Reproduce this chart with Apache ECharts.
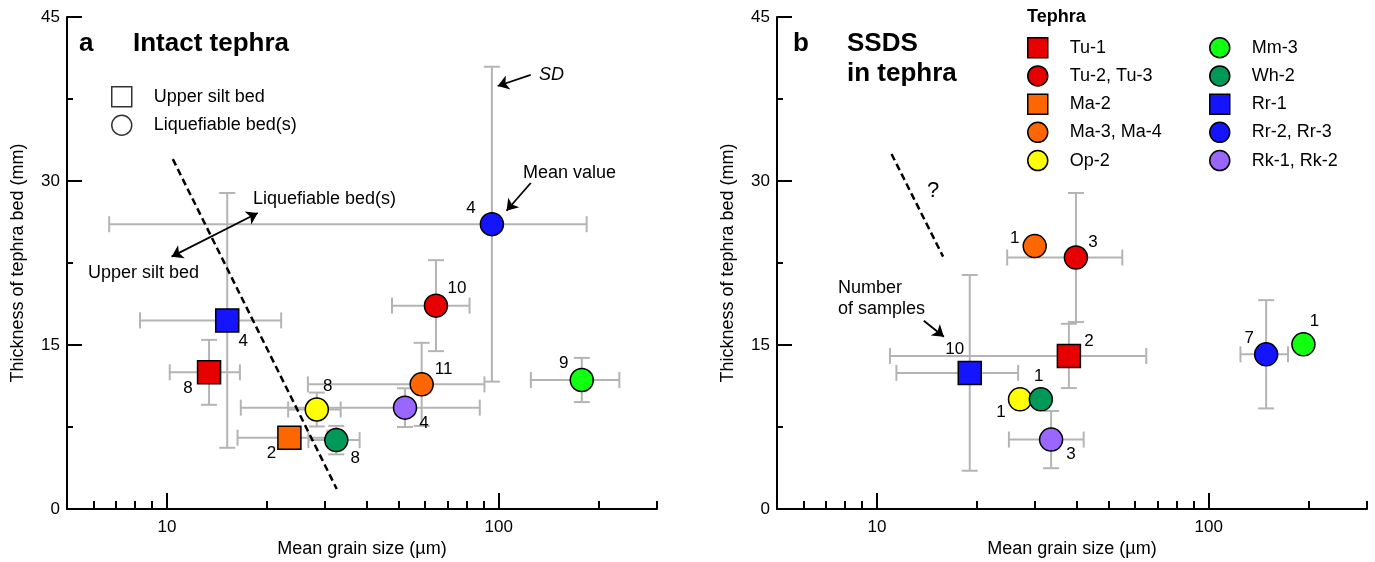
<!DOCTYPE html>
<html><head><meta charset="utf-8">
<script src="https://cdn.jsdelivr.net/npm/echarts@6/dist/echarts.min.js"></script>
<style>html,body{margin:0;padding:0;background:#fff}#c{width:1375px;height:562px}</style>
</head><body><div id="c"></div>
<script>
const FONT = "'Liberation Sans', Arial, Helvetica, sans-serif";

// ---------- data ----------
const tephraNames = ['Tu-1', 'Tu-2, Tu-3', 'Ma-2', 'Ma-3, Ma-4', 'Op-2', 'Mm-3', 'Wh-2', 'Rr-1', 'Rr-2, Rr-3', 'Rk-1, Rk-2'];
const bedType = ['silt', 'liq', 'silt', 'liq', 'liq', 'liq', 'liq', 'silt', 'liq', 'liq'];
const tephraColors = ['#e60000', '#e60000', '#ff6600', '#ff6600', '#ffff00', '#11ff11', '#009958', '#1414ff', '#1414ff', '#9966ff'];

// panel a: intact tephra (mean grain size µm, thickness mm, SDs, number of samples)
const aGrain   = [13.4, 64.7, 23.4, 58.6, 28.3, 178, 32.4, 15.2, 95.4, 52.2];
const aGrainSD = [3.2, 17, 7.07, 32, 5.1, 53, 5.7, 6.9, 88.7, 35.5];
const aThick   = [12.5, 18.6, 6.52, 11.4, 9.1, 11.8, 6.3, 17.25, 26.05, 9.27];
const aThickSD = [2.97, 4.16, 0, 3.8, 1.55, 2.02, 1.3, 11.65, 14.4, 1.77];
const aCount   = [8, 10, 2, 11, 8, 9, 8, 4, 4, 4];

// panel b: SSDS in tephra
const bGrain   = [37.9, 39.8, null, 29.9, 27.0, 193, 31.2, 19.05, 149, 33.5];
const bGrainSD = [26.95, 15.1, null, 0, 0, 0, 0, 7.6, 24.35, 8.5];
const bThick   = [14.0, 23.0, null, 24.05, 10.03, 15.06, 10.03, 12.45, 14.15, 6.35];
const bThickSD = [2.94, 5.9, null, 0, 0, 0, 0, 8.95, 4.95, 2.62];
const bCount   = [2, 3, null, 1, 1, 1, 1, 10, 7, 3];

// boundary (dashed) lines
const aBoundaryGrain = [10.42, 32.5];
const aBoundaryThick = [32.0, 1.83];
const bBoundaryGrain = [11.07, 15.83];
const bBoundaryThick = [32.47, 23.08];

// annotation arrows [from, to] in data units
const aArrowBoth = [[10.33, 23.08], [18.79, 27.07]];
const aArrowSD   = [[124.9, 39.7], [99.3, 38.69]];
const aArrowMean = [[124.9, 29.82], [105.6, 27.28]];
const bArrowN    = [[13.85, 17.22], [15.92, 15.76]];

// axes
const xMin = 5, xMax = 300;
const xMinorTicks = [6, 7, 8, 9, 20, 30, 40, 50, 60, 70, 80, 90, 200, 300];
const xMajorTicks = [10, 100];
const xTickLabels = ['10', '100'];
const yMin = 0, yMax = 45, yStep = 15;

// ---------- styles ----------
const aLabelOffset = [[-21,16],[21,-17],[-18,16],[22,-15],[11,-23],[-18,-17],[19,18],[16,21],[-21,-16],[19,16]];
const bLabelOffset = [[20,-15],[17,-15],null,[-20,-8],[-19,13],[11,-23],[-2,-23],[-15,-24],[-17,-16],[20,15]];

const LOG = v => Math.log10(v);
const grids = [
  {left: 67, top: 17, width: 590, height: 492},
  {left: 777, top: 17, width: 590, height: 492}
];

function xAxesFor(g) {
  const common = {gridIndex: g, position: 'bottom', splitLine: {show: false}};
  return [
    Object.assign({}, common, {
      type: 'log', logBase: 10, min: xMin, max: xMax,
      axisLine: {show: true, onZero: false, lineStyle: {color: '#000', width: 2}},
      axisTick: {show: false}, axisLabel: {show: false},
      name: 'Mean grain size (µm)', nameLocation: 'middle', nameGap: 31,
      nameTextStyle: {color: '#000', fontSize: 18, fontFamily: FONT}
    }),
    Object.assign({}, common, {
      type: 'value', min: LOG(xMin), max: LOG(xMax),
      axisLine: {show: false, onZero: false},
      axisTick: {show: true, inside: true, length: 8, customValues: xMinorTicks.map(LOG), lineStyle: {color: '#000', width: 2}},
      axisLabel: {show: false}
    }),
    Object.assign({}, common, {
      type: 'value', min: LOG(xMin), max: LOG(xMax),
      axisLine: {show: false, onZero: false},
      axisTick: {show: true, inside: true, length: 16, customValues: xMajorTicks.map(LOG), lineStyle: {color: '#000', width: 2}},
      axisLabel: {show: true, customValues: xMajorTicks.map(LOG), margin: 10, color: '#000', fontSize: 17, fontFamily: FONT,
        formatter: v => { const i = xMajorTicks.findIndex(t => Math.abs(LOG(t) - v) < 1e-6); return i >= 0 ? xTickLabels[i] : ''; }}
    })
  ];
}
function yAxisFor(g) {
  return {
    type: 'value', gridIndex: g, min: yMin, max: yMax, interval: yStep,
    axisLine: {show: true, onZero: false, lineStyle: {color: '#000', width: 2}},
    axisTick: {show: true, inside: true, length: 15, lineStyle: {color: '#000', width: 2}},
    minorTick: {show: true, splitNumber: 2, length: 6, lineStyle: {color: '#000', width: 2}},
    axisLabel: {color: '#000', fontSize: 17, fontFamily: FONT, margin: 7},
    splitLine: {show: false}, minorSplitLine: {show: false},
    name: 'Thickness of tephra bed (mm)', nameLocation: 'middle', nameGap: 40,
    nameTextStyle: {color: '#000', fontSize: 18, fontFamily: FONT}
  };
}

function errRender(params, api) {
  const x = api.value(0), y = api.value(1), xsd = api.value(2), ysd = api.value(3);
  const st = {stroke: '#b4b4b4', lineWidth: 2};
  const cap = 8, ch = [];
  const L = (x1, y1, x2, y2) => ch.push({type: 'line', shape: {x1, y1, x2, y2}, style: st});
  if (xsd > 0) {
    const p1 = api.coord([x - xsd, y]), p2 = api.coord([x + xsd, y]);
    L(p1[0], p1[1], p2[0], p2[1]);
    L(p1[0], p1[1] - cap, p1[0], p1[1] + cap);
    L(p2[0], p2[1] - cap, p2[0], p2[1] + cap);
  }
  if (ysd > 0) {
    const p1 = api.coord([x, y - ysd]), p2 = api.coord([x, y + ysd]);
    L(p1[0], p1[1], p2[0], p2[1]);
    L(p1[0] - cap, p1[1], p1[0] + cap, p1[1]);
    L(p2[0] - cap, p2[1], p2[0] + cap, p2[1]);
  }
  return {type: 'group', children: ch};
}

const series = [];
const panels = [
  {xi: 0, yi: 0, grain: aGrain, gsd: aGrainSD, thick: aThick, tsd: aThickSD, n: aCount, off: aLabelOffset,
   bg: aBoundaryGrain, bt: aBoundaryThick, arrows: [[aArrowBoth, true], [aArrowSD, false], [aArrowMean, false]]},
  {xi: 3, yi: 1, grain: bGrain, gsd: bGrainSD, thick: bThick, tsd: bThickSD, n: bCount, off: bLabelOffset,
   bg: bBoundaryGrain, bt: bBoundaryThick, arrows: [[bArrowN, false]]}
];
panels.forEach(p => {
  const errData = [];
  p.grain.forEach((g, i) => { if (g != null) errData.push([g, p.thick[i], p.gsd[i], p.tsd[i]]); });
  series.push({type: 'custom', xAxisIndex: p.xi, yAxisIndex: p.yi, renderItem: errRender, data: errData,
    encode: {x: 0, y: 1}, z: 2, silent: true, clip: false});
  series.push({type: 'line', xAxisIndex: p.xi, yAxisIndex: p.yi, symbol: 'none', silent: true, z: 3,
    data: p.bg.map((g, i) => [g, p.bt[i]]), lineStyle: {color: '#000', width: 2.5, type: [7, 4]}});
  p.arrows.forEach(([ar, both]) => {
    series.push({type: 'lines', coordinateSystem: 'cartesian2d', xAxisIndex: p.xi, yAxisIndex: p.yi, z: 4, silent: true,
      symbol: both ? ['arrow', 'arrow'] : ['none', 'arrow'], symbolSize: 11,
      lineStyle: {color: '#000', width: 1.8, opacity: 1}, data: [{coords: ar}]});
  });
  p.grain.forEach((g, i) => {
    if (g == null) return;
    series.push({
      type: 'scatter', name: tephraNames[i], xAxisIndex: p.xi, yAxisIndex: p.yi, z: 5,
      symbol: bedType[i] === 'silt' ? 'rect' : 'circle', symbolSize: 23,
      itemStyle: {color: tephraColors[i], borderColor: '#000', borderWidth: 1.5, opacity: 1},
      label: {show: true, position: 'inside', offset: p.off[i], formatter: String(p.n[i]), color: '#000',
        fontSize: 17, fontFamily: FONT, textBorderWidth: 0},
      emphasis: {disabled: true},
      data: [[g, p.thick[i]]]
    });
  });
});
// bed-type key (hollow symbols)
series.push({type: 'scatter', name: 'Upper silt bed', symbol: 'rect', xAxisIndex: 0, yAxisIndex: 0, data: [],
  itemStyle: {color: '#fff', borderColor: '#000', borderWidth: 1.5}});
series.push({type: 'scatter', name: 'Liquefiable bed(s)', symbol: 'circle', xAxisIndex: 0, yAxisIndex: 0, data: [],
  itemStyle: {color: '#fff', borderColor: '#000', borderWidth: 1.5}});

function legendAt(left, top, names, gap) {
  return {show: true, orient: 'vertical', left, top, data: names, itemWidth: 20, itemHeight: 20, itemGap: gap,
    selectedMode: false, padding: 0,
    itemStyle: {borderColor: '#000', borderWidth: 1.5},
    textStyle: {color: '#000', fontSize: 18, fontFamily: FONT, padding: [0, 0, 0, 17]}};
}

function txt(x, y, text, o) {
  return {type: 'text', x, y, z: 20, silent: true,
    style: Object.assign({text, fill: '#000', fontSize: 18, fontFamily: FONT, align: 'left', verticalAlign: 'middle'}, o || {})};
}

const option = {
  animation: false,
  backgroundColor: '#fff',
  textStyle: {fontFamily: FONT},
  grid: grids.map(g => Object.assign({outerBoundsMode: 'none', containLabel: false}, g)),
  xAxis: xAxesFor(0).concat(xAxesFor(1)),
  yAxis: [yAxisFor(0), yAxisFor(1)],
  legend: [
    legendAt(111, 86, ['Upper silt bed', 'Liquefiable bed(s)'], 7),
    legendAt(1027, 37, tephraNames.slice(0, 5), 6.7),
    legendAt(1209, 37, tephraNames.slice(5), 6.7)
  ],
  graphic: [
    txt(79, 44, 'a', {fontSize: 26, fontWeight: 'bold'}),
    txt(133, 44, 'Intact tephra', {fontSize: 26, fontWeight: 'bold'}),
    txt(253, 199, 'Liquefiable bed(s)'),
    txt(88, 273, 'Upper silt bed'),
    txt(539, 75, 'SD', {fontStyle: 'italic'}),
    txt(523, 173, 'Mean value'),
    txt(793, 44, 'b', {fontSize: 26, fontWeight: 'bold'}),
    txt(847, 44, 'SSDS', {fontSize: 26, fontWeight: 'bold'}),
    txt(847, 74, 'in tephra', {fontSize: 26, fontWeight: 'bold'}),
    txt(1027, 17, 'Tephra', {fontWeight: 'bold'}),
    txt(838, 288, 'Number'),
    txt(838, 309, 'of samples'),
    txt(933, 191, '?', {fontSize: 22, align: 'center'})
  ],
  series
};
const chart = echarts.init(document.getElementById('c'), null, {renderer: 'canvas'});
chart.setOption(option);
</script>
</body></html>
